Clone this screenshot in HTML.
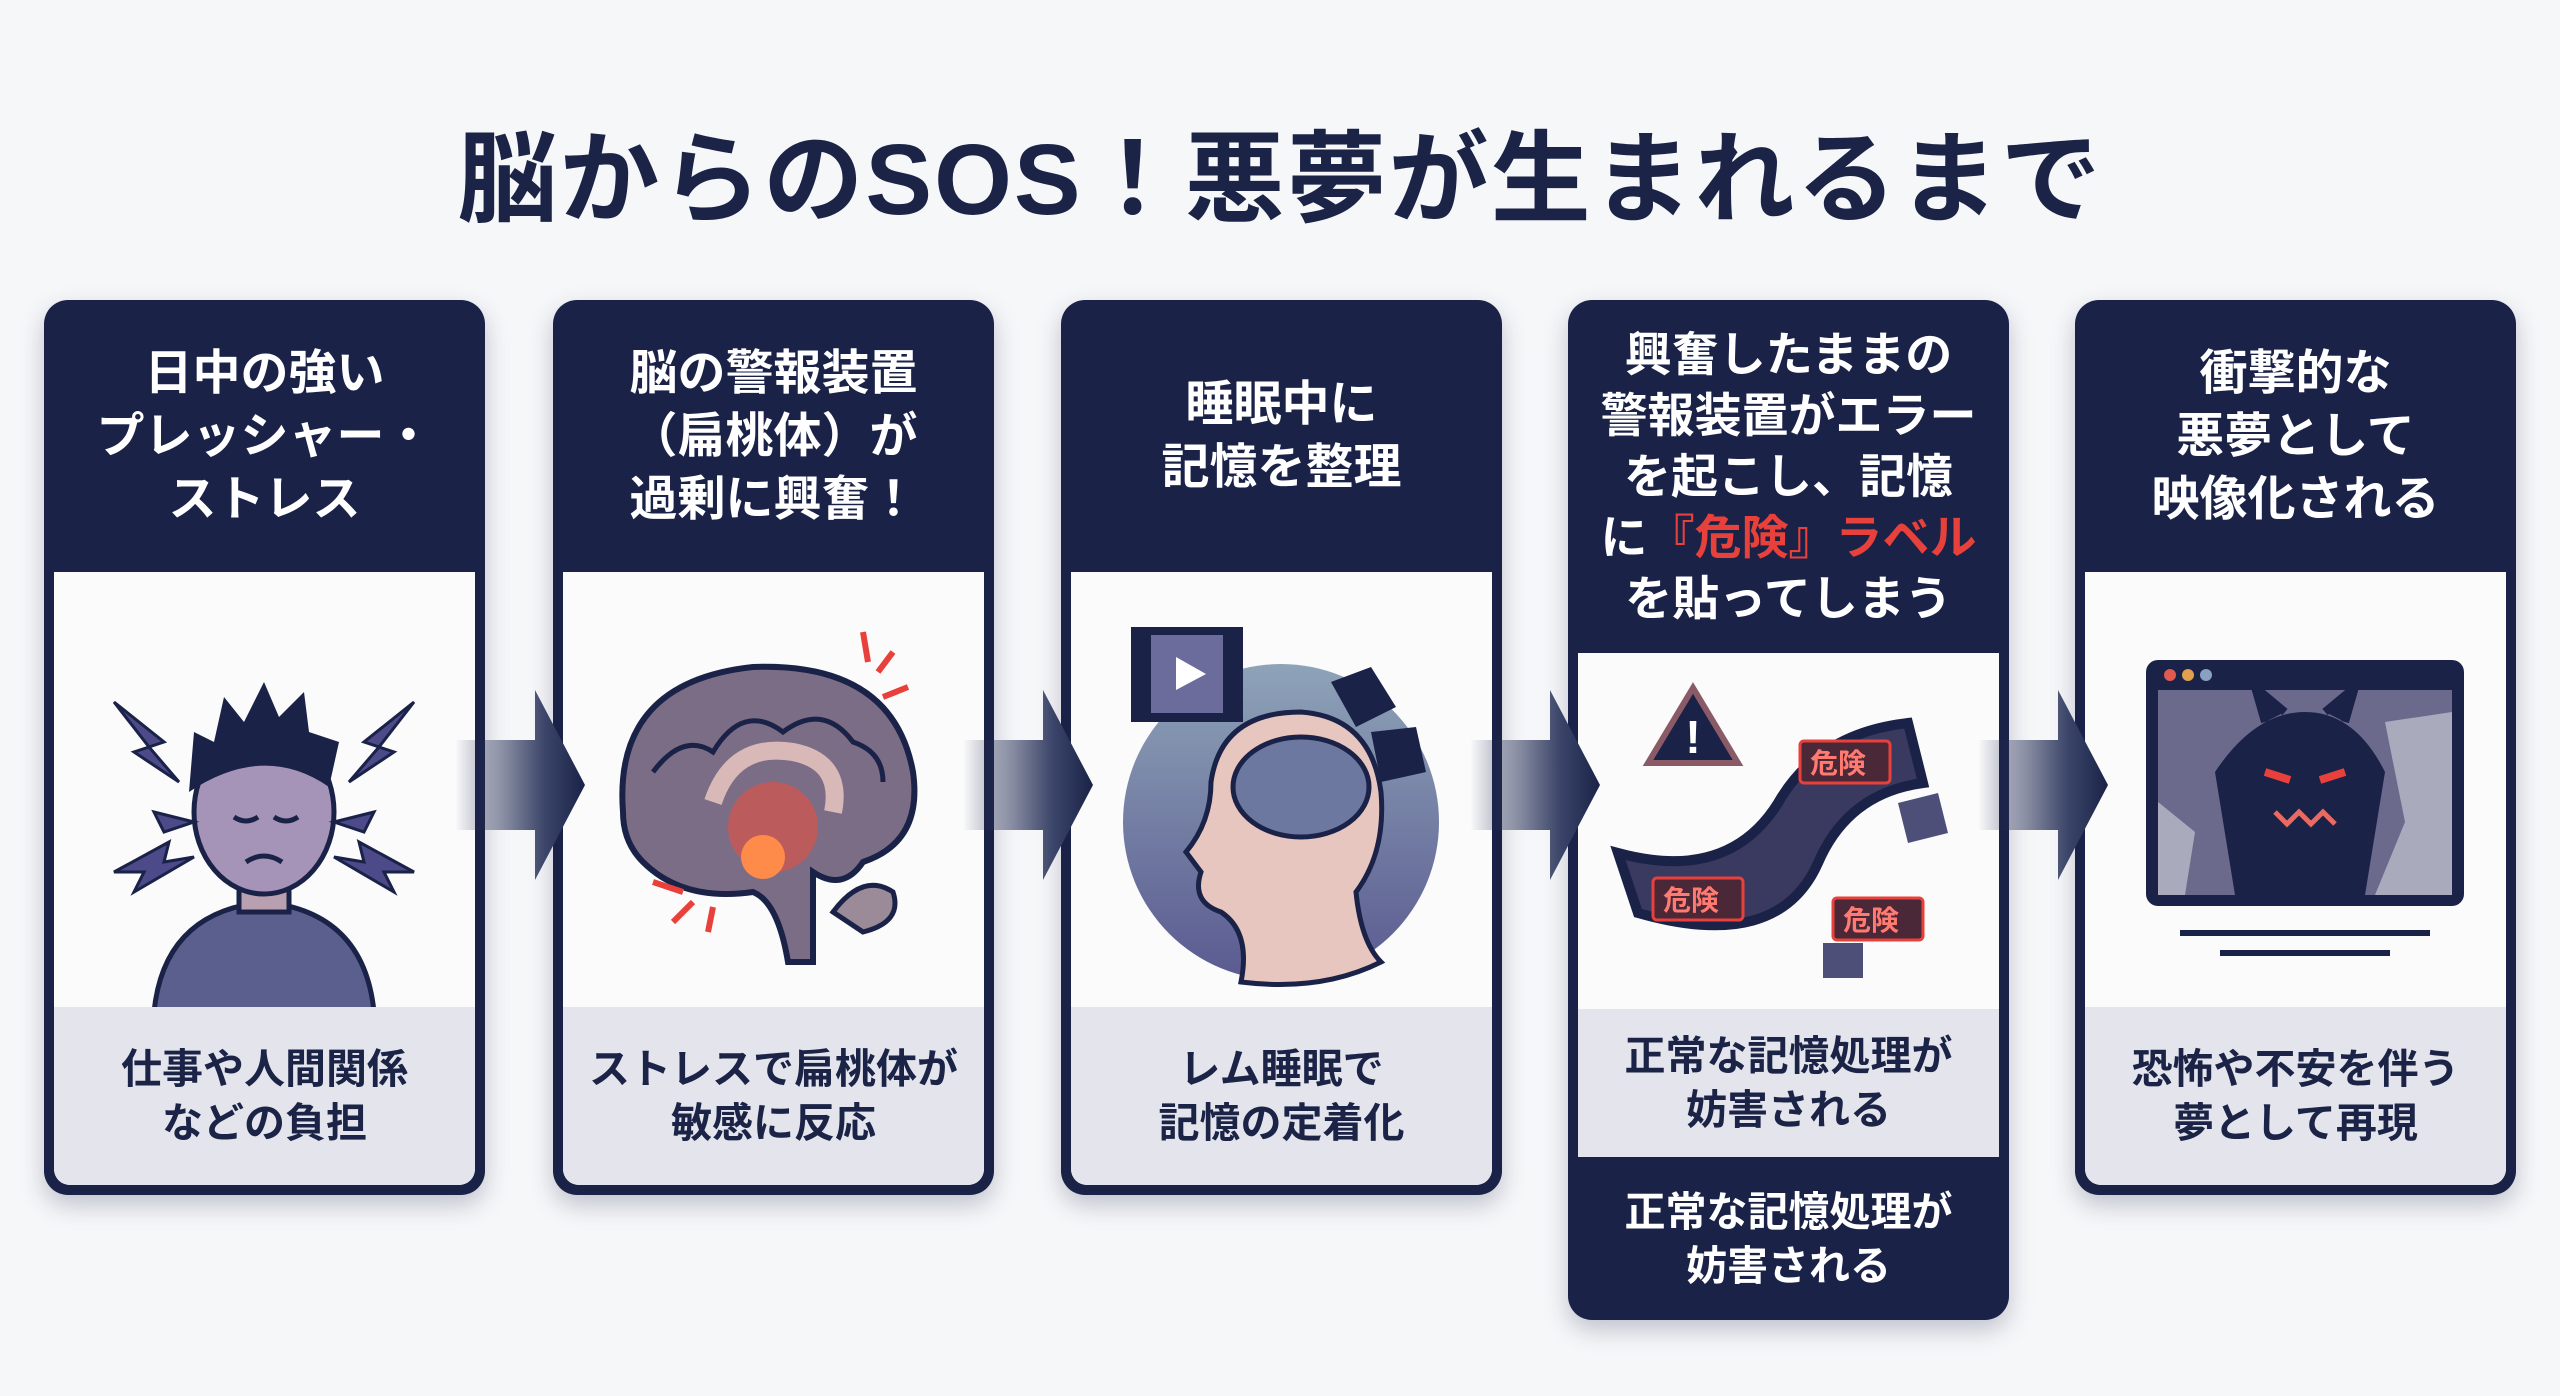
<!DOCTYPE html>
<html><head><meta charset="utf-8"><style>
*{margin:0;padding:0;box-sizing:border-box}
body{width:2560px;height:1396px;background:#f6f7f9;position:relative;overflow:hidden;font-family:"Liberation Sans","Noto Sans CJK JP",sans-serif}
.title{position:absolute;left:0;width:2560px;top:98px;text-align:center;font-size:100px;font-weight:bold;color:#1b2346;letter-spacing:2px}
.card{position:absolute;top:300px;width:441px;height:895px;background:#1a2248;border-radius:24px;box-shadow:0 10px 24px rgba(30,40,80,.25)}
.hd{position:absolute;left:0;right:0;top:0;height:272px;display:flex;align-items:center;justify-content:center;text-align:center;color:#fff;font-weight:bold;font-size:48px;line-height:63px}
.panel{position:absolute;left:10px;right:10px;top:272px;bottom:10px;background:#fbfbfc;border-radius:0 0 16px 16px;overflow:hidden}
.ft{position:absolute;left:0;right:0;bottom:0;height:178px;background:#e4e5ec;display:flex;align-items:center;justify-content:center;text-align:center;color:#1b2346;font-weight:bold;font-size:41px;line-height:54px}
.arrow{position:absolute;top:690px;width:130px;height:190px;z-index:5}
.red{color:#e8403a}
</style></head><body>
<div class="title">脳からのSOS！悪夢が生まれるまで</div>

<div class="card" style="left:44px">
 <div class="hd"><div>日中の強い<br>プレッシャー・<br>ストレス</div></div>
 <div class="panel">
  <svg width="421" height="460" viewBox="0 0 421 460" style="position:absolute;left:0;top:0">
   <path d="M100 440 Q110 340 210 330 Q310 340 320 440 Z" fill="#5b5f8e" stroke="#1a2248" stroke-width="5"/>
   <rect x="185" y="290" width="50" height="50" fill="#b9a0b0" stroke="#1a2248" stroke-width="5"/>
   <ellipse cx="210" cy="240" rx="70" ry="82" fill="#a694b8" stroke="#1a2248" stroke-width="5"/>
   <path d="M135 220 L140 160 L160 170 L170 125 L190 150 L210 110 L225 145 L250 120 L255 160 L285 170 L275 215 Q210 170 135 220Z" fill="#1a2248"/>
   <path d="M180 245 q12 8 24 0 M220 245 q12 8 24 0 M192 290 q18 -12 36 0" stroke="#1a2248" stroke-width="5" fill="none"/>
   <g fill="#4d4a8a" stroke="#1a2248" stroke-width="3">
    <path d="M60 130 L110 170 L95 175 L125 210 L80 180 L95 175 Z"/>
    <path d="M360 130 L310 170 L325 175 L295 210 L340 180 L325 175 Z"/>
    <path d="M60 300 L115 270 L110 290 L140 285 L80 320 L90 300Z"/>
    <path d="M360 300 L305 270 L310 290 L280 285 L340 320 L330 300Z"/>
    <path d="M100 240 L140 250 L110 260Z"/><path d="M320 240 L280 250 L310 260Z"/>
   </g>
  </svg>
  <div class="ft"><div>仕事や人間関係<br>などの負担</div></div>
 </div>
</div>

<div class="card" style="left:553px">
 <div class="hd"><div>脳の警報装置<br>（扁桃体）が<br>過剰に興奮！</div></div>
 <div class="panel">
  <svg width="421" height="460" viewBox="0 0 421 460" style="position:absolute;left:0;top:0">
   <path d="M60 240 Q50 110 190 95 Q330 90 350 200 Q360 270 300 290 Q280 320 250 300 L250 390 L225 390 Q215 330 190 320 Q120 330 80 290 Q60 270 60 240Z" fill="#7c6d86" stroke="#1a2248" stroke-width="6"/>
   <path d="M90 200 q30 -40 60 -20 q30 -50 70 -20 q40 -30 70 10 q30 10 30 40" stroke="#1a2248" stroke-width="5" fill="none"/>
   <path d="M150 230 Q170 170 230 180 Q280 190 270 240" stroke="#d8b9b8" stroke-width="18" fill="none"/>
   <circle cx="210" cy="255" r="45" fill="#e85040" opacity=".6"/>
   <circle cx="200" cy="285" r="22" fill="#ff8b4a"/>
   <path d="M270 340 Q300 300 330 320 Q340 350 300 360Z" fill="#9b8a98" stroke="#1a2248" stroke-width="5"/>
   <g stroke="#e8403a" stroke-width="6"><path d="M300 60 L305 90 M330 80 L315 100 M345 115 L320 125 M90 310 L120 320 M110 350 L130 330 M145 360 L150 335"/></g>
  </svg>
  <div class="ft"><div>ストレスで扁桃体が<br>敏感に反応</div></div>
 </div>
</div>

<div class="card" style="left:1061px">
 <div class="hd"><div>睡眠中に<br>記憶を整理</div></div>
 <div class="panel">
  <svg width="421" height="460" viewBox="0 0 421 460" style="position:absolute;left:0;top:0">
   <defs><linearGradient id="g3" x1="0" y1="0" x2="0" y2="1"><stop offset="0" stop-color="#8ea3b8"/><stop offset="1" stop-color="#5a5a90"/></linearGradient></defs>
   <circle cx="210" cy="250" r="158" fill="url(#g3)"/>
   <path d="M170 410 Q180 360 150 340 Q120 330 130 300 L115 280 Q140 250 140 210 Q150 140 230 140 Q300 145 310 220 Q315 280 285 320 Q290 370 310 390 Q250 420 170 410Z" fill="#e8c6c0" stroke="#1a2248" stroke-width="5"/>
   <ellipse cx="230" cy="215" rx="68" ry="50" fill="#6d78a0" stroke="#1a2248" stroke-width="5"/>
   <rect x="60" y="55" width="112" height="95" fill="#1a2248"/><rect x="80" y="63" width="72" height="78" fill="#6b6c9c"/>
   <path d="M105 85 L135 102 L105 118Z" fill="#fff"/>
   <path d="M260 110 l40 -15 l25 40 l-40 20z M300 160 l45 -5 l10 45 l-45 10z" fill="#1a2248"/>
  </svg>
  <div class="ft"><div>レム睡眠で<br>記憶の定着化</div></div>
 </div>
</div>

<div class="card" style="left:1568px;height:1020px">
 <div class="hd" style="height:353px;font-size:47px;line-height:61px"><div>興奮したままの<br>警報装置がエラー<br>を起こし、記憶<br>に<span class="red">『危険』ラベル</span><br>を貼ってしまう</div></div>
 <div class="panel" style="top:353px;bottom:163px;border-radius:0">
  <svg width="421" height="355" viewBox="0 0 421 355" style="position:absolute;left:0;top:0">
   <path d="M40 200 Q150 230 200 150 Q240 80 330 70 L345 130 Q270 140 240 210 Q200 300 60 260Z" fill="#3a3a60" stroke="#1a2248" stroke-width="10"/>
   <path d="M70 110 L115 35 L160 110Z" fill="#1a2248" stroke="#8a5a66" stroke-width="6"/>
   <text x="115" y="100" fill="#fff" font-size="46" font-weight="bold" text-anchor="middle">!</text>
   <g font-weight="bold" font-size="28" fill="#ff7a70">
    <rect x="222" y="88" width="90" height="42" rx="4" fill="#4a2838" stroke="#e8403a" stroke-width="3"/><text x="232" y="120">危険</text>
    <rect x="75" y="225" width="90" height="42" rx="4" fill="#4a2838" stroke="#e8403a" stroke-width="3"/><text x="85" y="257">危険</text>
    <rect x="255" y="245" width="90" height="42" rx="4" fill="#4a2838" stroke="#e8403a" stroke-width="3"/><text x="265" y="277">危険</text>
   </g>
   <path d="M320 150 l40 -10 l10 40 l-40 10z M245 290 l40 0 l0 35 l-40 0z" fill="#4d4f78"/>
  </svg>
  <div class="ft" style="height:148px;font-size:41px"><div>正常な記憶処理が<br>妨害される</div></div>
 </div>
 <div style="position:absolute;left:0;right:0;bottom:0;height:163px;display:flex;align-items:center;justify-content:center;text-align:center;color:#fff;font-weight:bold;font-size:41px;line-height:54px"><div>正常な記憶処理が<br>妨害される</div></div>
</div>

<div class="card" style="left:2075px">
 <div class="hd"><div>衝撃的な<br>悪夢として<br>映像化される</div></div>
 <div class="panel">
  <svg width="421" height="460" viewBox="0 0 421 460" style="position:absolute;left:0;top:0">
   <rect x="61" y="88" width="318" height="246" rx="12" fill="#1a2248"/>
   <rect x="73" y="118" width="294" height="205" fill="#6c6a8c"/>
   <path d="M73 230 L110 260 L100 323 L73 323Z M300 150 L367 140 L367 323 L290 323 L320 250Z" fill="#a9abbd"/>
   <path d="M150 323 L130 200 Q170 140 220 140 Q270 140 300 200 L280 323Z" fill="#1a2248"/>
   <path d="M180 150 L170 115 L200 140 M260 150 L270 115 L240 140" fill="#1a2248" stroke="#1a2248" stroke-width="8"/>
   <path d="M180 200 l25 8 M260 200 l-25 8" stroke="#e8403a" stroke-width="8"/>
   <path d="M190 240 l12 12 l12 -12 l12 12 l12 -12 l12 12" stroke="#e86a60" stroke-width="5" fill="none"/>
   <circle cx="85" cy="103" r="6" fill="#e05a50"/><circle cx="103" cy="103" r="6" fill="#e0a050"/><circle cx="121" cy="103" r="6" fill="#8aa0c0"/>
   <rect x="95" y="358" width="250" height="6" fill="#1a2248"/><rect x="135" y="378" width="170" height="6" fill="#1a2248"/>
  </svg>
  <div class="ft"><div>恐怖や不安を伴う<br>夢として再現</div></div>
 </div>
</div>

<svg class="arrow" style="left:455px" viewBox="0 0 130 190"><defs><linearGradient id="a" x1="0" x2="1"><stop offset="0" stop-color="#1a2248" stop-opacity="0"/><stop offset=".7" stop-color="#3a4468"/><stop offset="1" stop-color="#1a2248"/></linearGradient></defs><path d="M0 50 L80 50 L80 0 L130 95 L80 190 L80 140 L0 140Z" fill="url(#a)"/></svg>
<svg class="arrow" style="left:963px" viewBox="0 0 130 190"><path d="M0 50 L80 50 L80 0 L130 95 L80 190 L80 140 L0 140Z" fill="url(#a)"/></svg>
<svg class="arrow" style="left:1470px" viewBox="0 0 130 190"><path d="M0 50 L80 50 L80 0 L130 95 L80 190 L80 140 L0 140Z" fill="url(#a)"/></svg>
<svg class="arrow" style="left:1978px" viewBox="0 0 130 190"><path d="M0 50 L80 50 L80 0 L130 95 L80 190 L80 140 L0 140Z" fill="url(#a)"/></svg>
</body></html>
